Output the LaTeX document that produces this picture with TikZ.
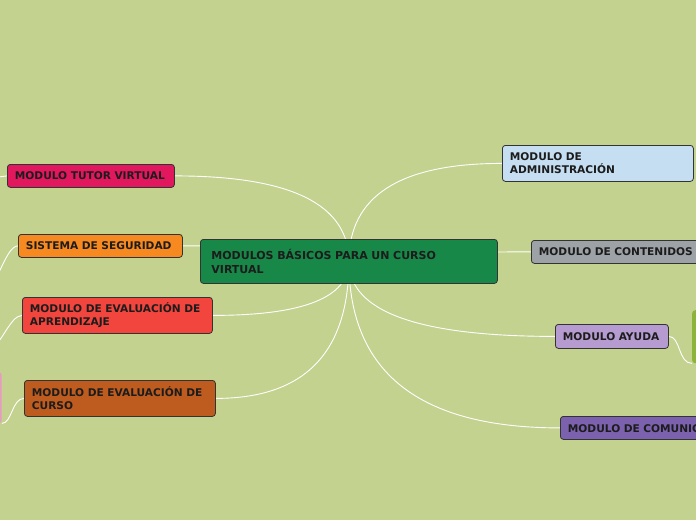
\documentclass[tikz,border=0pt]{standalone}
\usepackage{fontspec}
\setmainfont{DejaVu Sans}
\usetikzlibrary{backgrounds,calc}
\definecolor{canvas}{HTML}{C4D28F}
\definecolor{rim}{HTML}{333333}
\definecolor{ink}{HTML}{1C1C1C}
\definecolor{rootcol}{HTML}{178848}
\definecolor{tutorcol}{HTML}{E2185E}
\definecolor{segcol}{HTML}{F6891F}
\definecolor{aprcol}{HTML}{F1453D}
\definecolor{cursocol}{HTML}{BE5B1F}
\definecolor{admincol}{HTML}{C5DEF1}
\definecolor{contcol}{HTML}{9DA2A6}
\definecolor{ayudacol}{HTML}{B59BD0}
\definecolor{comcol}{HTML}{7C62AE}
\definecolor{subgreen}{HTML}{8DB43A}
\definecolor{subpink}{HTML}{E99AC0}

\tikzset{
  topic/.style={draw=rim, line width=0.8pt, rounded corners=3pt, anchor=north west,
    align=left, text=ink, font=\fontsize{10.6}{13}\selectfont\bfseries,
    inner xsep=7.5pt, inner ysep=0pt},
  subtopic/.style={rounded corners=3pt, anchor=north west, inner sep=0pt},
  branch/.style={draw=white, line width=0.9pt},
}

\begin{document}
\begin{tikzpicture}[x=1pt, y=-1pt]
  \useasboundingbox (0,0) rectangle (696,520);
  \clip (0,0) rectangle (696,520);
  \begin{scope}[on background layer]
    \fill[canvas] (0,0) rectangle (696,520);
  \end{scope}

  % central topic
  \node[topic, fill=rootcol, inner xsep=11pt, text width=275pt, minimum height=44pt,
        font=\fontsize{11}{14}\selectfont\bfseries] (root) at (200,239)
    {MODULOS BÁSICOS PARA UN CURSO\\VIRTUAL};

  % left side
  \node[topic, fill=tutorcol, text width=152pt, minimum height=23pt] (tutor) at (7,164)
    {MODULO TUTOR VIRTUAL};
  \node[topic, fill=segcol, text width=149pt, minimum height=23pt] (seguridad) at (18,234)
    {SISTEMA DE SEGURIDAD};
  \node[topic, fill=aprcol, text width=175pt, minimum height=36pt] (aprendizaje) at (22,297)
    {MODULO DE EVALUACIÓN DE\\APRENDIZAJE};
  \node[topic, fill=cursocol, text width=176pt, minimum height=36pt] (curso) at (24,380)
    {MODULO DE EVALUACIÓN DE\\CURSO};

  % right side
  \node[topic, fill=admincol, text width=176pt, minimum height=36pt] (admin) at (502,145)
    {MODULO DE\\ADMINISTRACIÓN};
  \node[topic, fill=contcol, text width=172pt, minimum height=23pt] (contenidos) at (531,240)
    {MODULO DE CONTENIDOS};
  \node[topic, fill=ayudacol, text width=98pt, minimum height=24pt] (ayuda) at (555,324)
    {MODULO AYUDA};
  \node[topic, fill=comcol, text width=190pt, minimum height=23pt] (comunic) at (560,416)
    {MODULO DE COMUNICACIÓN};

  % sub topics cut by the edge
  \node[subtopic, fill=subgreen, minimum width=60pt, minimum height=53pt] (ayudasub) at (692,310) {};
  \node[subtopic, fill=subpink, minimum width=61pt, minimum height=51pt] (cursosub) at (-59.5,372) {};
  \coordinate (tutorsub) at (-10,178);
  \coordinate (segsub) at (-12,285);
  \coordinate (aprsub) at (-10,348);

  \begin{scope}[on background layer]
    \foreach \kid/\side in {tutor/east, seguridad/east, aprendizaje/east, curso/east,
                            admin/west, contenidos/west, ayuda/west, comunic/west}
      \draw[branch] (root.center)
        .. controls ($(root.center)!0.667!(root.center |- \kid.\side)$)
        and ($(\kid.\side)!0.667!(root.center |- \kid.\side)$) .. (\kid.\side);
    \draw[branch] (tutor.west) -- (tutorsub);
    \draw[branch] (seguridad.west) .. controls +(-12,0) and +(10,0) .. (segsub);
    \draw[branch] (aprendizaje.west) .. controls +(-12,0) and +(10,0) .. (aprsub);
    \draw[branch] (curso.west) .. controls +(-12,0) and +(10,0) .. (cursosub.south east);
    \draw[branch] (ayuda.east) .. controls +(12,0) and +(-14,0) .. (ayudasub.south west);
  \end{scope}
\end{tikzpicture}
\end{document}
